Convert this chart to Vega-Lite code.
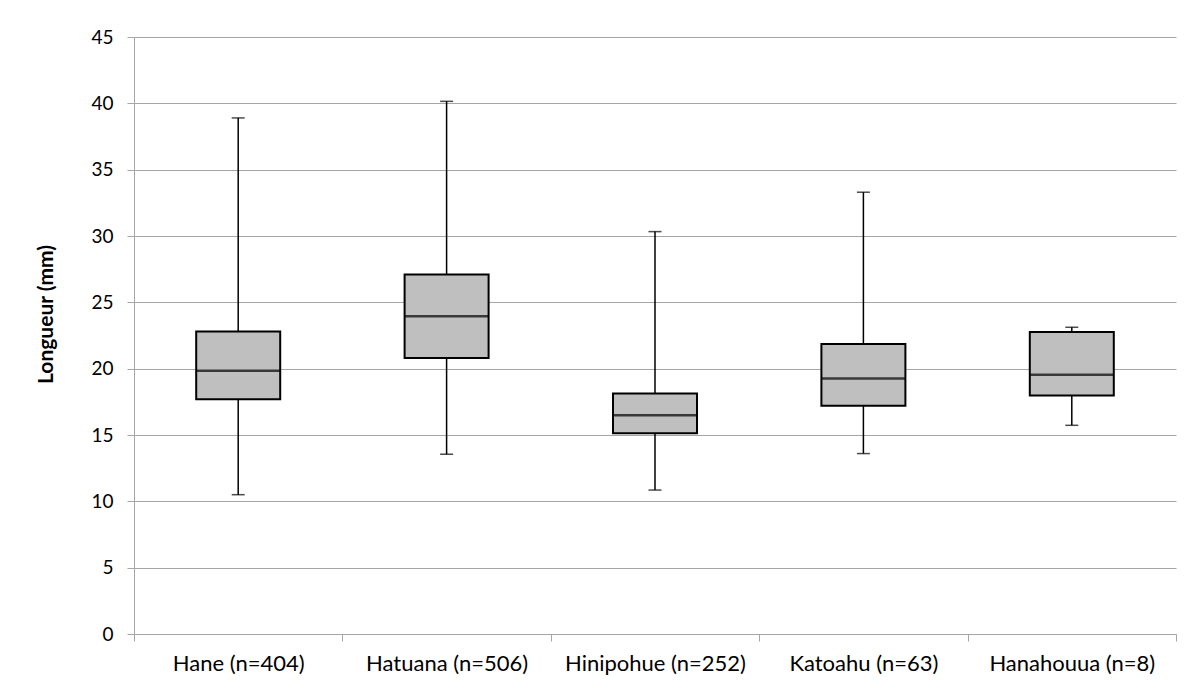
{
  "$schema": "https://vega.github.io/schema/vega-lite/v6.json",
  "autosize": {"type": "none"},
  "padding": {"left": 134, "top": 37, "right": 27, "bottom": 66},
  "width": 1042,
  "height": 597,
  "background": "white",
  "config": {
    "font": "Lato",
    "view": {"stroke": null},
    "axis": {"labelFont": "Lato", "titleFont": "Lato"}
  },
  "data": {
    "values": [
      {"site": "Hane (n=404)", "min": 10.5, "q1": 17.7, "median": 19.85, "q3": 22.8, "max": 38.9},
      {"site": "Hatuana (n=506)", "min": 13.55, "q1": 20.8, "median": 23.95, "q3": 27.1, "max": 40.15},
      {"site": "Hinipohue (n=252)", "min": 10.85, "q1": 15.13, "median": 16.48, "q3": 18.12, "max": 30.33},
      {"site": "Katoahu (n=63)", "min": 13.6, "q1": 17.2, "median": 19.25, "q3": 21.85, "max": 33.3},
      {"site": "Hanahouua (n=8)", "min": 15.73, "q1": 17.97, "median": 19.55, "q3": 22.77, "max": 23.12}
    ]
  },
  "encoding": {
    "x": {
      "field": "site", "type": "nominal", "sort": null,
      "scale": {"paddingInner": 0, "paddingOuter": 0},
      "axis": {
        "title": null, "labelAngle": 0, "tickBand": "extent", "labelLimit": 400, "labelOverlap": false,
        "labelFontSize": 22, "labelColor": "#000000", "labelPadding": 12,
        "domainColor": "#a6a6a6", "tickColor": "#a6a6a6", "tickSize": 7, "domainWidth": 1, "tickWidth": 1
      }
    }
  },
  "layer": [
    {
      "mark": {"type": "rule", "color": "#000000", "strokeWidth": 1.5},
      "encoding": {
        "y": {
          "field": "min", "type": "quantitative",
          "scale": {"domain": [0, 45], "nice": false},
          "axis": {
            "title": "Longueur (mm)", "titleFontSize": 21, "titleFontWeight": "bold", "titleColor": "#000000", "titlePadding": 34,
            "titleY": 277,
            "values": [0, 5, 10, 15, 20, 25, 30, 35, 40, 45],
            "labelFontSize": 19, "labelColor": "#000000", "labelPadding": 14,
            "grid": true, "gridColor": "#a6a6a6", "gridWidth": 1,
            "domainColor": "#a6a6a6", "tickColor": "#a6a6a6", "tickSize": 7
          }
        },
        "y2": {"field": "max"}
      }
    },
    {
      "mark": {"type": "bar", "fill": "#bfbfbf", "stroke": "#000000", "strokeWidth": 2, "size": 84},
      "encoding": {
        "y": {"field": "q1", "type": "quantitative"},
        "y2": {"field": "q3"}
      }
    },
    {
      "mark": {"type": "tick", "color": "#000000", "size": 84, "thickness": 2.5},
      "encoding": {"y": {"field": "median", "type": "quantitative"}}
    },
    {
      "mark": {"type": "tick", "color": "#000000", "size": 13, "thickness": 1.5},
      "encoding": {"y": {"field": "min", "type": "quantitative"}}
    },
    {
      "mark": {"type": "tick", "color": "#000000", "size": 13, "thickness": 1.5},
      "encoding": {"y": {"field": "max", "type": "quantitative"}}
    }
  ]
}
